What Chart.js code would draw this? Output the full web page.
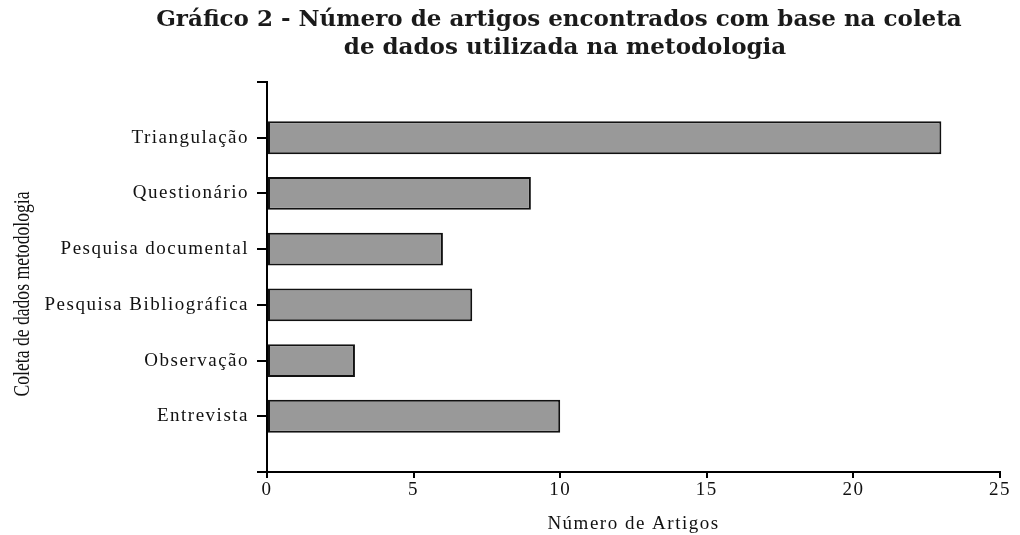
<!DOCTYPE html>
<html>
<head>
<meta charset="utf-8">
<script src="https://cdn.jsdelivr.net/npm/chart.js@4"></script>
<style>
  html, body { margin: 0; padding: 0; background: #fff; }
  #wrap { width: 1020px; height: 535px; }
</style>
</head>
<body>
<div id="wrap"><canvas id="myChart" width="1020" height="535"></canvas></div>
<script>
const categories = ['Triangulação', 'Questionário', 'Pesquisa documental', 'Pesquisa Bibliográfica', 'Observação', 'Entrevista'];
const artigos = [23, 9, 6, 7, 3, 10];
const xTicks = [0, 5, 10, 15, 20, 25];
const titleLines = ['Gráfico 2 - Número de artigos encontrados com base na coleta', 'de dados utilizada na metodologia'];
const xTitle = 'Número de Artigos';
const yTitle = 'Coleta de dados metodologia';

// empty slots at both ends give the extra space above and below the bars
const labels = [''].concat(categories, ['']);
const values = [null].concat(artigos, [null]);

const spacing = {
  id: 'spacing',
  beforeLayout(chart) { chart.ctx.letterSpacing = '1.5px'; },
  beforeDraw(chart) { chart.ctx.letterSpacing = '1.5px'; }
};

const heading = {
  id: 'heading',
  afterDraw(chart) {
    const c = chart.ctx;
    c.save();
    c.letterSpacing = '0px';
    c.fillStyle = '#1a1a1a';
    c.font = 'bold 23px "DejaVu Serif"';
    c.textAlign = 'center';
    c.textBaseline = 'middle';
    c.fillText(titleLines[0], 559, 20);
    c.fillText(titleLines[1], 565, 48);
    c.restore();

    // condensed vertical axis title, like the original
    c.save();
    c.letterSpacing = '0px';
    c.fillStyle = '#111';
    c.font = '23px "Liberation Serif"';
    const w = c.measureText(yTitle).width;
    c.translate(29, 294);
    c.rotate(-Math.PI / 2);
    c.scale(205 / w, 1);
    c.textAlign = 'center';
    c.textBaseline = 'alphabetic';
    c.fillText(yTitle, 0, 0);
    c.restore();
  }
};

const ctx = document.getElementById('myChart').getContext('2d');

new Chart(ctx, {
  type: 'bar',
  data: {
    labels: labels,
    datasets: [{
      label: 'Número de Artigos',
      data: values,
      backgroundColor: '#999999',
      borderColor: '#111',
      borderWidth: 2,
      borderSkipped: false,
      categoryPercentage: 1,
      barPercentage: 0.59
    }]
  },
  options: {
    indexAxis: 'y',
    responsive: false,
    animation: false,
    layout: { padding: { top: 82, right: 20, left: 0, bottom: 0 } },
    plugins: {
      legend: { display: false },
      tooltip: { enabled: false }
    },
    scales: {
      x: {
        min: 0,
        max: 25,
        afterBuildTicks(scale) { scale.ticks = xTicks.map(v => ({ value: v })); },
        grid: { display: true, drawOnChartArea: false, drawTicks: true, tickLength: 6, color: '#000', lineWidth: 2 },
        border: { display: true, color: '#000', width: 2 },
        ticks: { color: '#111', font: { family: 'Liberation Serif', size: 19 }, padding: 1 },
        title: { display: true, text: xTitle, color: '#111', font: { family: 'Liberation Serif', size: 19 }, padding: { top: 6, bottom: 0 } },
        afterFit(scale) { scale.height = 63; }
      },
      y: {
        offset: false,
        grid: { display: true, offset: false, drawOnChartArea: false, drawTicks: true, tickLength: 10, color: '#000', lineWidth: 2 },
        border: { display: true, color: '#000', width: 2 },
        ticks: { color: '#111', font: { family: 'Liberation Serif', size: 19 }, padding: 8, autoSkip: false },
        title: { display: false },
        afterFit(scale) { scale.width = 267; }
      }
    }
  },
  plugins: [spacing, heading]
});
</script>
</body>
</html>
